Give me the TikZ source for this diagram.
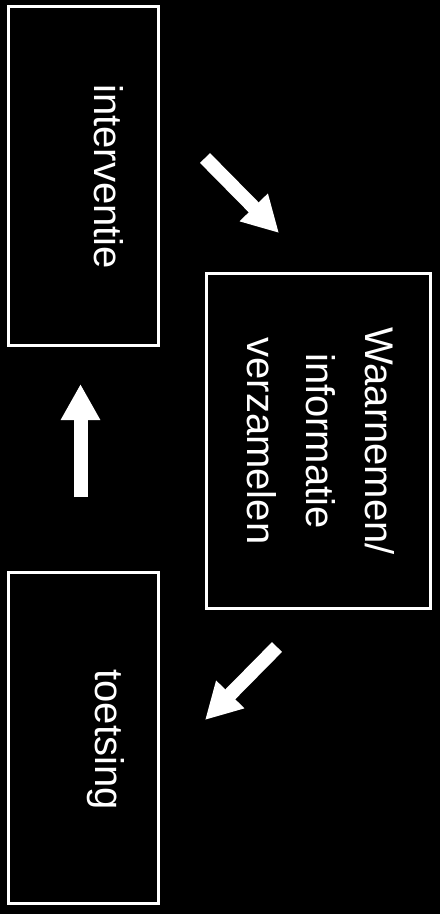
\documentclass[tikz,border=0pt]{standalone}
\usepackage{fontspec}
\setmainfont{Liberation Sans}
\usetikzlibrary{arrows.meta}

\begin{document}
\begin{tikzpicture}[x=1pt,y=-1pt,
    box_node/.style={rectangle,draw=white,line width=3pt,inner sep=0pt},
    label_node/.style={text=white,font=\fontsize{40}{59}\selectfont,rotate=-90,inner sep=0pt},
    arrow_line/.style={draw=white,line width=14pt,-{Triangle[length=36pt,width=37pt]}}]

    \fill[black] (0,0) rectangle (440,914);
    \useasboundingbox (0,0) rectangle (440,914);

    \node[box_node,minimum width=150pt,minimum height=339pt] (1) at (83.5,176) {};
    \node[box_node,minimum width=224pt,minimum height=335pt] (2) at (318.5,441) {};
    \node[box_node,minimum width=150pt,minimum height=331pt] (3) at (83.5,738) {};

    \node[label_node,anchor=base] (1t) at (94,176.5) {interventie};
    \node[label_node,anchor=base,align=center] (2t) at (247,441) {Waarnemen/\\informatie\\verzamelen};
    \node[label_node,anchor=base] (3t) at (95,739.5) {toetsing};

    \coordinate (a1s) at (205,158);
    \coordinate (a1e) at (279,233);
    \coordinate (a2s) at (277,647);
    \coordinate (a2e) at (205,720);
    \coordinate (a3s) at (80.5,497);
    \coordinate (a3e) at (80.5,384);
    \draw[arrow_line] (a1s) -- (a1e);
    \draw[arrow_line] (a2s) -- (a2e);
    \draw[arrow_line] (a3s) -- (a3e);
\end{tikzpicture}
\end{document}
